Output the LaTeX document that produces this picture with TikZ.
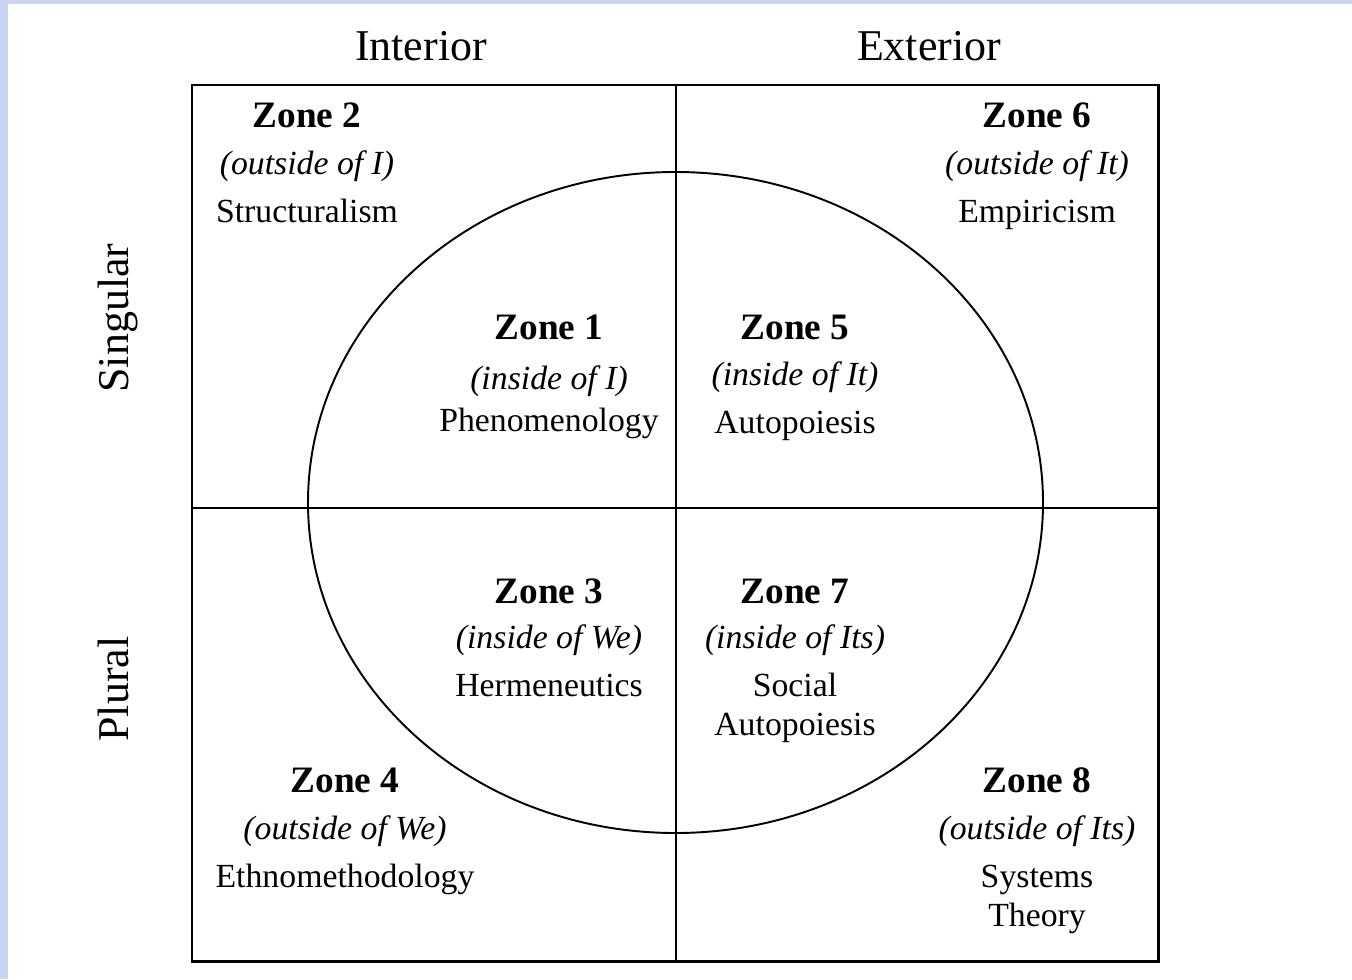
\documentclass[tikz,border=0pt]{standalone}
\usepackage{fontspec}
\setmainfont{Liberation Serif}
\usetikzlibrary{positioning}
\definecolor{bgblue}{RGB}{200,212,242}
\tikzset{
  axislabel/.style={font=\fontsize{12.5}{15}\selectfont, anchor=base},
  zonetitle/.style={font=\fontsize{10.6}{12}\selectfont\bfseries, anchor=base},
  zonesub/.style={font=\fontsize{9.6}{12}\selectfont\itshape, anchor=base},
  zonelabel/.style={font=\fontsize{9.6}{12}\selectfont, anchor=base},
  frame/.style={line width=0.85pt},
  divider/.style={line width=0.45pt},
}
\begin{document}
\begin{tikzpicture}[x=0.01cm, y=-0.01cm]
% page background with the tinted edge
\fill[bgblue] (0,0) rectangle (1352,979);
\fill[white] (8,4) rectangle (1352,979);
\useasboundingbox (0,0) rectangle (1352,979);

% ---------------- quadrants and circle ----------------
\coordinate (nw) at (192,85);
\coordinate (se) at (1158,961);
\coordinate (mid) at (676,508);
\coordinate (ctr) at (675.5,502.5);
\draw[frame] (nw) rectangle (se);
\draw[divider] (nw -| mid) -- (se -| mid);
\draw[divider] (nw |- mid) -- (se |- mid);
\draw[divider, line width=0.55pt] (ctr) ellipse [x radius=367.5, y radius=330.5];

% ---------------- axis labels ----------------
\node[axislabel] (interior) at (421,61) {Interior};
\node[axislabel] (exterior) at (929,61) {Exterior};
\node[axislabel, rotate=90] (singular) at (128,318) {Singular};
\node[axislabel, rotate=90] (plural) at (128,689) {Plural};

% ---------------- zones ----------------
\foreach \n/\x/\ya/\yb/\yc/\sub/\lab in {%
    2/307/128/174/222/{(outside of I)}/Structuralism,
    6/1037/128/174/222/{(outside of It)}/Empiricism,
    1/549/339/389/431/{(inside of I)}/Phenomenology,
    5/795/339/385/433/{(inside of It)}/Autopoiesis,
    3/549/603/648/696/{(inside of We)}/Hermeneutics,
    7/795/603/648/696/{(inside of Its)}/Social,
    4/345/792/839/887/{(outside of We)}/Ethnomethodology,
    8/1037/792/839/887/{(outside of Its)}/Systems} {
  \node[zonetitle] (z\n) at (\x,\ya) {Zone \n};
  \node[zonesub] (s\n) at (\x,\yb) {\sub};
  \node[zonelabel] (l\n) at (\x,\yc) {\lab};
}
% second lines of the two-line labels
\node[zonelabel] (l7b) at (795,735) {Autopoiesis};
\node[zonelabel] (l8b) at (1037,926) {Theory};
\end{tikzpicture}
\end{document}
